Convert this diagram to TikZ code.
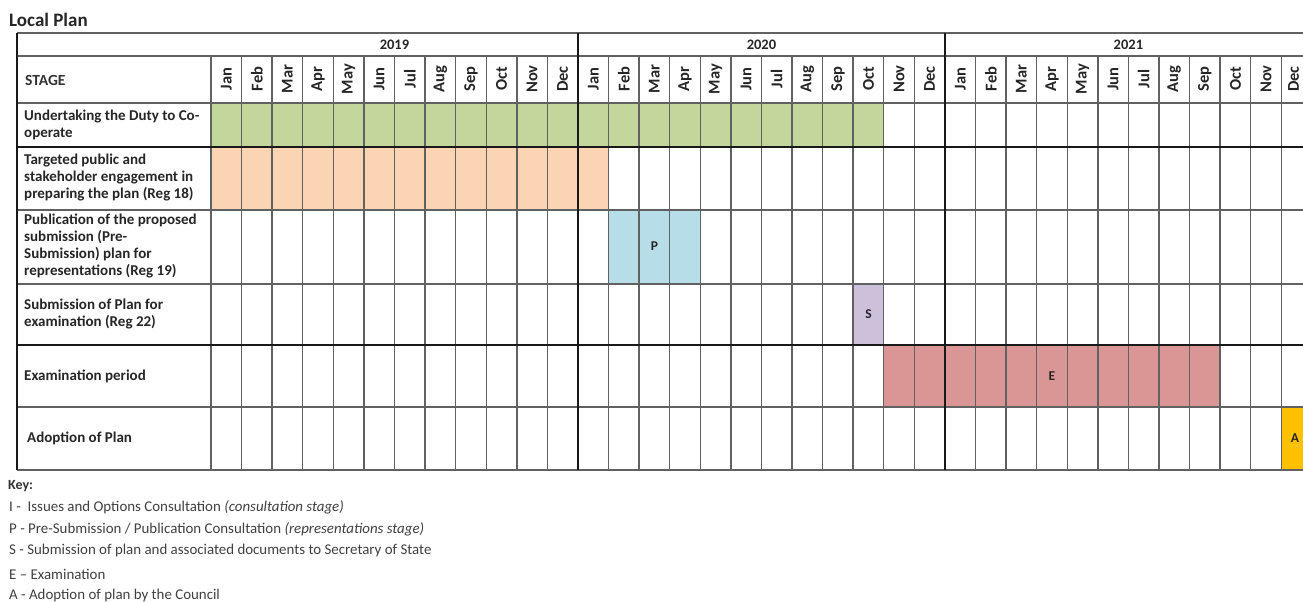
\documentclass[tikz,border=0pt]{standalone}
\usepackage{fontspec}
\setmainfont{Carlito}
\definecolor{cgreen}{HTML}{C3D69B}
\definecolor{cpeach}{HTML}{FBD4B4}
\definecolor{cblue}{HTML}{B7DDE8}
\definecolor{cpurple}{HTML}{CCC0DA}
\definecolor{cred}{HTML}{D99694}
\definecolor{camber}{HTML}{FFC000}
\begin{document}
\begin{tikzpicture}[x=1pt,y=-1pt,
  gridline/.style={draw=black!62, line width=1.4pt},
  heavyline/.style={draw=black!90, line width=1.9pt},
  stagetxt/.style={anchor=west, align=left, inner sep=0pt, font=\fontsize{15}{17}\selectfont\bfseries, text=black!85},
  monthtxt/.style={rotate=90, inner sep=0pt, font=\fontsize{16.5}{16.5}\selectfont\bfseries, text=black!85},
  yeartxt/.style={inner sep=0pt, font=\fontsize{14.5}{14.5}\selectfont\bfseries, text=black!85},
  celltxt/.style={inner sep=0pt, font=\fontsize{13.5}{13.5}\selectfont\bfseries, text=black!85},
  keytxt/.style={anchor=west, inner sep=0pt, font=\fontsize{14.9}{14.9}\selectfont, text=black!75}
]
\useasboundingbox (0,0) rectangle (1303,602);
\clip (0,0) rectangle (1303,602);
\def\cw{30.58}
% fills
\fill[cgreen]  (211,103) rectangle ({211+22*\cw},147);
\fill[cpeach]  (211,147) rectangle ({211+13*\cw},210);
\fill[cblue]   ({211+13*\cw},210) rectangle ({211+16*\cw},284);
\fill[cpurple] ({211+21*\cw},284) rectangle ({211+22*\cw},345);
\fill[cred]    ({211+22*\cw},345) rectangle ({211+33*\cw},407);
\fill[camber]  ({211+35*\cw},407) rectangle ({211+36*\cw},470);
% grid
\foreach \i in {0,...,37} \draw[gridline] ({211+\i*\cw},56) -- ({211+\i*\cw},470);
\foreach \y in {33,56,103,210,284,407,470} \draw[gridline] (17,\y) -- (1320,\y);
\foreach \y in {147,345} \draw[heavyline] (17,\y) -- (1320,\y);
\draw[heavyline] (17,33) -- (17,470);
\draw[heavyline] ({211+12*\cw},33) -- ({211+12*\cw},470);
\draw[heavyline] ({211+24*\cw},33) -- ({211+24*\cw},470);
% title
\node[anchor=west, inner sep=0pt, font=\fontsize{19}{19}\selectfont\bfseries, text=black!85] (title) at (9,20) {Local Plan};
% header
\node[anchor=west, inner sep=0pt, font=\fontsize{15.5}{15.5}\selectfont\bfseries, text=black!80] (stage) at (25,80) {STAGE};
\node[yeartxt] (y2019) at ({211+6*\cw},45) {2019};
\node[yeartxt] (y2020) at ({211+18*\cw},45) {2020};
\node[yeartxt] (y2021) at ({211+30*\cw},45) {2021};
\foreach \yr in {0,1,2} {
  \foreach \m [count=\k from 0] in {Jan,Feb,Mar,Apr,May,Jun,Jul,Aug,Sep,Oct,Nov,Dec} {
    \pgfmathsetmacro{\mx}{min(211+(\yr*12+\k+0.5)*\cw,1293.5)}
    \node[monthtxt] (m\yr-\k) at (\mx,79) {\m};
  }
}
% stage labels
\node[stagetxt] (r1) at (24,125) {Undertaking the Duty to Co-\\operate};
\node[stagetxt] (r2) at (24,178) {Targeted public and\\stakeholder engagement in\\preparing the plan (Reg 18)};
\node[stagetxt] (r3) at (24,246) {Publication of the proposed\\submission (Pre-\\Submission) plan for\\representations (Reg 19)};
\node[stagetxt] (r4) at (24,314) {Submission of Plan for\\examination (Reg 22)};
\node[stagetxt] (r5) at (24,376) {Examination period};
\node[stagetxt] (r6) at (27,438) {Adoption of Plan};
% cell letters
\node[celltxt] (cP) at ({211+14.5*\cw},246) {P};
\node[celltxt] (cS) at ({211+21.5*\cw},314) {S};
\node[celltxt] (cE) at ({211+27.5*\cw},376) {E};
\node[celltxt] (cA) at (1295,438) {A};
% key
\node[anchor=west, inner sep=0pt, font=\fontsize{14}{14}\selectfont\bfseries, text=black!80] (key) at (8,486) {Key:};
\node[keytxt] (k1) at (9,507) {I -~ Issues and Options Consultation \textit{(consultation stage)}};
\node[keytxt] (k2) at (9,529) {P - Pre-Submission / Publication Consultation \textit{(representations stage)}};
\node[keytxt] (k3) at (9,551) {S - Submission of plan and associated documents to Secretary of State};
\node[keytxt] (k4) at (9,574) {E – Examination};
\node[keytxt] (k5) at (9,596) {A - Adoption of plan by the Council};
\end{tikzpicture}
\end{document}
